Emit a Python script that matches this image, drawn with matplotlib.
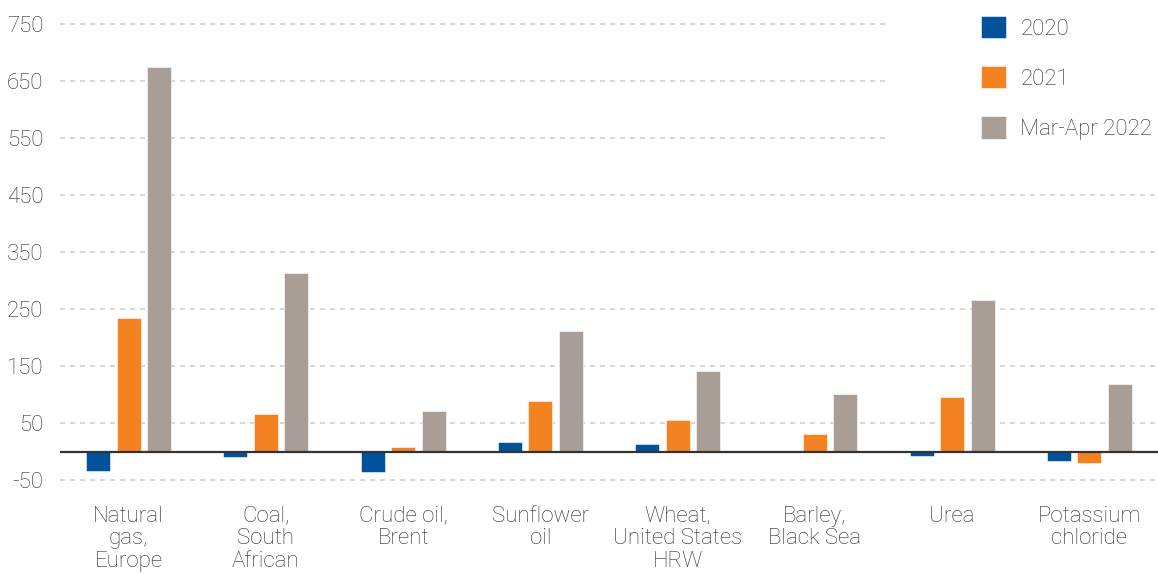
import matplotlib
matplotlib.use('Agg')
import matplotlib.pyplot as plt
from matplotlib.patches import Rectangle
import numpy as np

# data
categories = ['Natural\ngas,\nEurope', 'Coal,\nSouth\nAfrican', 'Crude oil,\nBrent',
              'Sunflower\noil', 'Wheat,\nUnited States\nHRW', 'Barley,\nBlack Sea',
              'Urea', 'Potassium\nchloride']
series_names = ['2020', '2021', 'Mar-Apr 2022']
v2020 = [-34, -10, -36, 17, 13, 0, -8, -16]
v2021 = [234, 65, 8, 89, 55, 31, 96, -20]
v2022 = [675, 313, 71, 211, 141, 101, 266, 118]
yticks = [-50, 50, 150, 250, 350, 450, 550, 650, 750]

colors = ['#00529B', '#F58220', '#A89E95']
text_color = '#2b2b2b'

plt.rcParams['font.family'] = ['Roboto', 'DejaVu Sans']
plt.rcParams['font.weight'] = 'light'

fig = plt.figure(figsize=(11.58, 5.74), dpi=100)
ax = fig.add_axes([60 / 1158, 1 - 502.8 / 574, 1 - 60 / 1158, (502.8 - 18.3) / 574])

x = np.arange(len(categories))
step = 0.222
width = 0.175
for i, (vals, name) in enumerate(zip([v2020, v2021, v2022], series_names)):
    ax.bar(x + (i - 1) * step, vals, width, color=colors[i], label=name,
           edgecolor='white', linewidth=0.4, zorder=3)

ax.set_xlim(-0.5, len(categories) - 0.5)
ax.set_ylim(-90, 760)
ax.set_yticks(yticks)
ax.set_yticklabels([str(t) for t in yticks])
ax.set_xticks(x)
ax.set_xticklabels(categories, linespacing=1.12)
ax.tick_params(axis='both', length=0, labelsize=16, colors=text_color)
ax.tick_params(axis='y', pad=12)
ax.tick_params(axis='x', pad=2)

ax.yaxis.grid(True, color='#cfcfcf', linestyle=(0, (3, 3)), linewidth=1.2, zorder=0)
ax.set_axisbelow(True)
for s in ax.spines.values():
    s.set_visible(False)
ax.axhline(0, color='#333333', linewidth=1.6, zorder=4)

# white area behind the legend hides the top gridlines
cover = Rectangle((890 / 1158, 1 - 165 / 574), 1 - 890 / 1158, 165 / 574,
                  transform=fig.transFigure, facecolor='white', edgecolor='none',
                  zorder=2, clip_on=False)
ax.add_patch(cover)

leg = ax.legend(loc='upper left', bbox_to_anchor=(981 / 1158, 1 - 16 / 574),
                bbox_transform=fig.transFigure, frameon=False, fontsize=16,
                handlelength=1.12, handleheight=1.15, handletextpad=0.65,
                labelspacing=1.2, borderpad=0, borderaxespad=0)
for t in leg.get_texts():
    t.set_color(text_color)
leg.set_zorder(5)

fig.savefig('out.png', dpi=100)
